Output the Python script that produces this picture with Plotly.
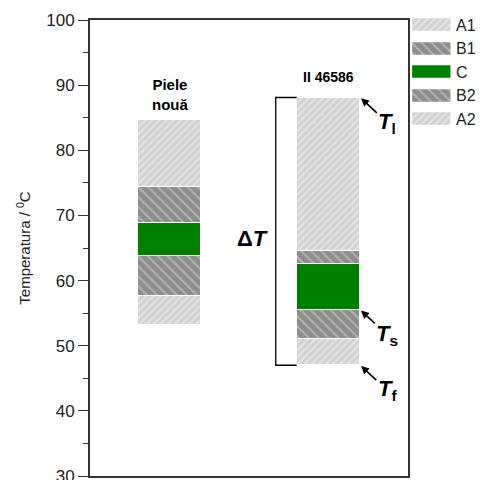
import plotly.graph_objects as go

# ---- data ----
samples = ["Piele<br>nouă", "II 46586"]
x_pos = [1, 2]
bottom = [53.2, 47.0]   # T_f
a2_top = [57.6, 51.0]
b2_top = [63.8, 55.5]   # T_s
c_top = [68.9, 62.6]
b1_top = [74.3, 64.6]
top = [84.7, 88.1]      # T_l

zones = ["A1", "B1", "C", "B2", "A2"]
y_ticks = [30, 40, 50, 60, 70, 80, 90, 100]

FONT = "Liberation Sans, Arial, sans-serif"
A_STYLE = dict(color="#d2d2d2", pattern=dict(shape="/", fgcolor="white", bgcolor="#d2d2d2", size=5, solidity=0.3))
B_STYLE = dict(color="#8c8c8c", pattern=dict(shape="\\", fgcolor="#d8d8d8", bgcolor="#8c8c8c", size=7, solidity=0.3))
C_STYLE = dict(color="#008000")
styles = {"A1": A_STYLE, "B1": B_STYLE, "C": C_STYLE, "B2": B_STYLE, "A2": A_STYLE}

segments = {
    "A2": (bottom, a2_top),
    "B2": (a2_top, b2_top),
    "C": (b2_top, c_top),
    "B1": (c_top, b1_top),
    "A1": (b1_top, top),
}

fig = go.Figure()
BW = 0.4
for name in ["A2", "B2", "C", "B1", "A1"]:
    lo, hi = segments[name]
    fig.add_trace(go.Bar(
        x=x_pos, y=[h - l for l, h in zip(lo, hi)], base=lo, width=BW,
        marker=dict(**styles[name], line=dict(color="white", width=1)),
        showlegend=False, name=name, xaxis="x", yaxis="y"))

# bracket (Delta T) for second sample
bx_in = x_pos[1] - BW / 2
bx_out = 1.668
fig.add_trace(go.Scatter(
    x=[bx_in, bx_out, bx_out, bx_in], y=[top[1], top[1], bottom[1], bottom[1]],
    mode="lines", line=dict(color="black", width=1.3), showlegend=False, hoverinfo="skip"))

# legend swatches drawn on their own axes
for i, name in enumerate(zones):
    fig.add_trace(go.Bar(
        x=[1], y=[i], base=[0], orientation="h", width=0.56,
        marker=dict(**styles[name], line=dict(color="white", width=0.5)),
        showlegend=False, xaxis="x2", yaxis="y2"))

# sample labels
fig.add_annotation(x=x_pos[0], y=top[0], text="<b>Piele<br>nouă</b>", showarrow=False,
                   yanchor="bottom", yshift=5, font=dict(size=15, color="black", family=FONT))
fig.add_annotation(x=x_pos[1], y=top[1], text="<b>II 46586</b>", showarrow=False,
                   yanchor="bottom", yshift=11, font=dict(size=14, color="black", family=FONT))

fig.add_annotation(x=1.525, y=66.5, text="<b>Δ<i>T</i></b>", showarrow=False,
                   font=dict(size=22, color="black", family=FONT))

bx_r = x_pos[1] + BW / 2
for val, sub in [(top[1], "l"), (b2_top[1], "s"), (bottom[1], "f")]:
    fig.add_annotation(x=bx_r, y=val, text=f"<b><i>T</i><sub>{sub}</sub></b>",
                       showarrow=True, arrowhead=2, arrowsize=1, arrowwidth=1.6,
                       arrowcolor="black", ax=27, ay=25, standoff=1,
                       font=dict(size=22, color="black", family=FONT))

W, H = 482, 480
L, R, T, B = 90, 10, 10, 4
pw, ph = W - L - R, H - T - B
main_right = (408 - L) / pw
main_top = (476 - 20) / ph

fig.update_layout(
    width=W, height=H, margin=dict(l=L, r=R, t=T, b=B, autoexpand=False),
    paper_bgcolor="white", plot_bgcolor="white",
    barmode="overlay", bargap=0,
    font=dict(family=FONT, color="#222"),
    xaxis=dict(domain=[0, main_right], range=[0.5, 2.5], showticklabels=False, ticks="",
               showgrid=False, zeroline=False, showline=True, linecolor="#333", linewidth=2,
               mirror=True, anchor="y", automargin=False),
    yaxis=dict(domain=[0, main_top], range=[30, 100], tickvals=y_ticks, ticks="outside",
               ticklen=10, tickwidth=1.3, tickcolor="#333", ticklabeloverflow="allow",
               minor=dict(dtick=5, ticks="outside", ticklen=5, tickwidth=1.3, tickcolor="#333"),
               showgrid=False, zeroline=False, showline=True, linecolor="#333", linewidth=2,
               mirror=True, tickfont=dict(size=17, color="#222"), automargin=False,
               title=dict(text="Temperatura / <sup>0</sup>C", font=dict(size=15, color="#222"),
                          standoff=12), anchor="x"),
    xaxis2=dict(domain=[(412 - L) / pw, (451 - L) / pw], range=[0, 1], visible=False,
                anchor="y2", fixedrange=True, automargin=False),
    yaxis2=dict(domain=[(476 - 130.75) / ph, (476 - 13.25) / ph], range=[4.5, -0.5],
                tickvals=list(range(len(zones))), ticktext=zones, side="right",
                anchor="x2", showgrid=False, zeroline=False, showline=False, ticks="",
                ticklabelstandoff=4,
                tickfont=dict(size=16, color="#222"), automargin=False),
)

fig.write_html("out.html", config={"displayModeBar": False},
               post_script="document.body.style.margin='0px';document.body.style.overflow='hidden';")
